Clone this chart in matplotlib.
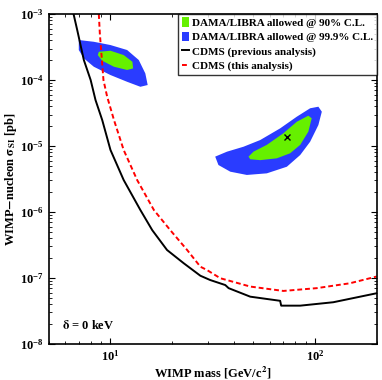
import matplotlib
matplotlib.use('Agg')
import matplotlib.pyplot as plt
from matplotlib.patches import Patch
from matplotlib.lines import Line2D

plt.rcParams['font.family'] = ['Liberation Serif', 'DejaVu Serif']
plt.rcParams['font.weight'] = 'bold'
plt.rcParams['mathtext.fontset'] = 'stix'
plt.rcParams['mathtext.default'] = 'bf'

# CDMS previous analysis limit (mass GeV, sigma pb)
prev_mass = [6.6, 6.88, 7.41, 8.0, 8.45, 9.11, 10.0, 11.6, 14.0, 16.0, 18.9, 22.8,
             27.5, 30.7, 36.4, 37.8, 48.2, 67.5, 68.3, 84.6, 122.7, 200]
prev_sigma = [1e-3, 5.7e-4, 2.01e-4, 1e-4, 4.97e-5, 2.48e-5, 8.7e-6, 3.05e-6, 1.07e-6,
              5.3e-7, 2.65e-7, 1.67e-7, 1.08e-7, 9.3e-8, 7.8e-8, 7.0e-8, 5.2e-8,
              4.5e-8, 3.8e-8, 3.8e-8, 4.28e-8, 5.86e-8]

# CDMS this analysis limit
this_mass = [8.77, 8.87, 9.24, 9.63, 10.4, 11.6, 13.5, 16.3, 19.6, 23.7, 27.5, 29.6,
             34.4, 48.2, 70.0, 101.9, 148, 200]
this_sigma = [1e-3, 5.1e-4, 1e-4, 5.6e-5, 2.48e-5, 8.7e-6, 3.05e-6, 1.07e-6, 5.3e-7,
              2.65e-7, 1.48e-7, 1.32e-7, 9.9e-8, 7.4e-8, 6.35e-8, 7.0e-8, 8.3e-8, 1.05e-7]

# DAMA/LIBRA contours, low-mass island
low999_mass = [7.0, 8.29, 10.0, 12.06, 13.75, 14.8, 15.2, 14.0, 12.06, 10.0, 8.29, 7.41, 7.0]
low999_sigma = [4.04e-4, 3.8e-4, 3.39e-4, 2.85e-4, 2.01e-4, 1.26e-4, 8.4e-5, 7.9e-5,
                9.4e-5, 1.19e-4, 1.59e-4, 2.13e-4, 2.85e-4]
low90_mass = [8.77, 10.0, 11.6, 12.8, 12.9, 12.06, 10.4, 9.11, 8.67]
low90_sigma = [2.68e-4, 2.78e-4, 2.39e-4, 1.89e-4, 1.5e-4, 1.42e-4, 1.59e-4, 1.96e-4, 2.39e-4]

# DAMA/LIBRA contours, high-mass island
high999_mass = [32.5, 37.1, 44.7, 53.9, 67.5, 81.4, 94.6, 103.8, 107.9, 103.8, 94.6,
                84.6, 72.8, 58.1, 46.4, 38.5, 33.7]
high999_sigma = [6.9e-6, 8.2e-6, 9.75e-6, 1.23e-5, 1.85e-5, 2.78e-5, 3.73e-5, 3.94e-5,
                 3.31e-5, 2.08e-5, 1.16e-5, 7.3e-6, 4.85e-6, 3.85e-6, 3.64e-6, 4.08e-6, 5.15e-6]
high90_mass = [47.3, 50.0, 58.1, 70.0, 81.4, 92.7, 96.3, 92.7, 84.6, 75.5, 65.0, 53.9, 48.2]
high90_sigma = [6.9e-6, 8.2e-6, 1.04e-5, 1.56e-5, 2.33e-5, 2.88e-5, 2.63e-5, 1.65e-5,
                1.04e-5, 7.75e-6, 6.5e-6, 6.1e-6, 6.3e-6]
best_fit = (73.3, 1.38e-5)

green = '#66f000'
blue = '#2a3cff'
dash = (0, (2.5, 1.5))

fig = plt.figure(figsize=(3.82, 3.80), dpi=100)
ax = fig.add_axes([0.128, 0.095, 0.858, 0.868])

ax.fill(low999_mass, low999_sigma, color=blue, lw=0)
ax.fill(low90_mass, low90_sigma, color=green, lw=0)
ax.fill(high999_mass, high999_sigma, color=blue, lw=0)
ax.fill(high90_mass, high90_sigma, color=green, lw=0)
ax.plot([best_fit[0]], [best_fit[1]], 'x', color='black', ms=4, mew=1)

ax.plot(prev_mass, prev_sigma, color='black', lw=1.4)
ax.plot(this_mass, this_sigma, color='red', lw=1.4, ls=dash)

ax.set_xscale('log')
ax.set_yscale('log')
ax.set_xlim(5, 200)
ax.set_ylim(1e-8, 1e-3)

ax.tick_params(which='both', direction='in', top=True, right=True, labelsize=9)
ax.tick_params(which='major', length=4.5, width=0.8)
ax.tick_params(which='minor', length=2.5, width=0.6)
for s in ax.spines.values():
    s.set_linewidth(1.2)

ax.set_xlabel(r'WIMP mass [GeV/c$^2$]', fontsize=9, fontweight='bold', labelpad=1)
ax.set_ylabel(r'WIMP$-$nucleon $\sigma_{SI}$ [pb]', fontsize=9, fontweight='bold', labelpad=1)

ax.text(0.04, 0.045, r'$\delta$ = 0 keV', transform=ax.transAxes, fontsize=9,
        fontweight='bold')

handles = [Patch(facecolor=green, lw=0),
           Patch(facecolor=blue, lw=0),
           Line2D([], [], color='black', lw=1.4),
           Line2D([], [], color='red', lw=1.4, ls=dash)]
labels = ['DAMA/LIBRA allowed @ 90% C.L.', 'DAMA/LIBRA allowed @ 99.9% C.L.',
          'CDMS (previous analysis)', 'CDMS (this analysis)']
leg = ax.legend(handles, labels, loc='upper right', frameon=True, fancybox=False,
                edgecolor='black', borderaxespad=0, handlelength=0.7, handleheight=0.9,
                handletextpad=0.25, borderpad=0.3, labelspacing=0.35,
                prop={'weight': 'bold', 'size': 8.0})
leg.get_frame().set_linewidth(1.0)

fig.savefig('out.png', dpi=100)
